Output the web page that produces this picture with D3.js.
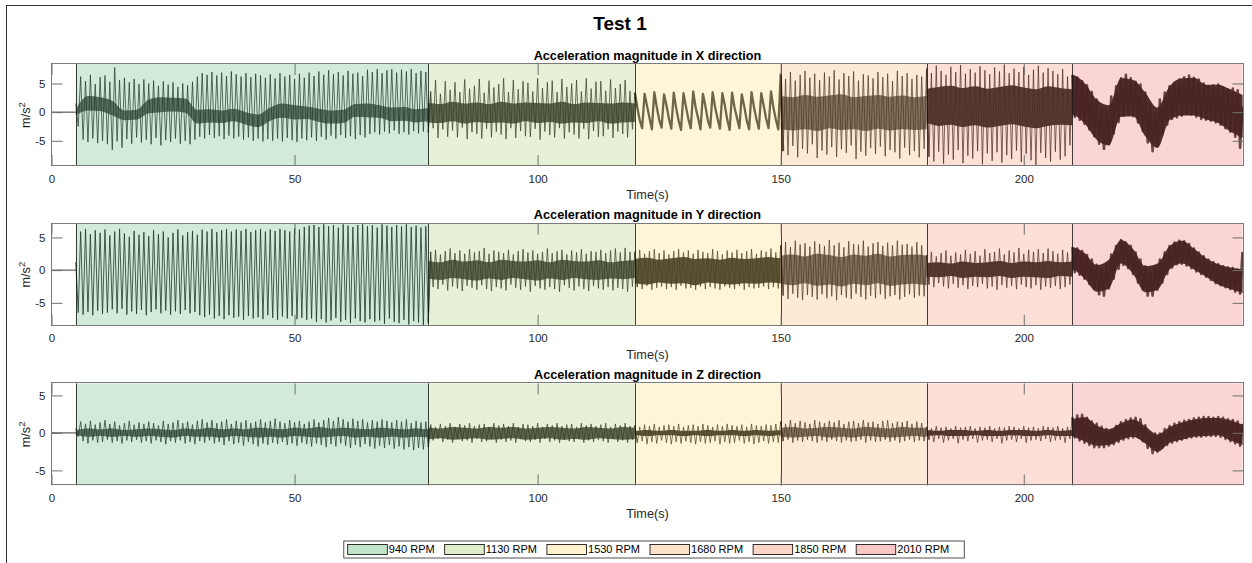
<!DOCTYPE html>
<html><head><meta charset="utf-8">
<script src="https://cdn.jsdelivr.net/npm/d3@7"></script>
<style>body{margin:0;background:#fff}svg{display:block}text{font-family:"Liberation Sans",Arial,sans-serif}</style>
</head><body><svg id="c" width="1252" height="563"></svg>
<script>
// ---------------- DATA ----------------
const figureTitle = "Test 1";
const panelTitles = ["Acceleration magnitude in X direction","Acceleration magnitude in Y direction","Acceleration magnitude in Z direction"];
const rpmLabels = ["940 RPM","1130 RPM","1530 RPM","1680 RPM","1850 RPM","2010 RPM"];
const segStart = [5, 77.5, 120, 150, 180, 210];
const segEnd = [77.5, 120, 150, 180, 210, 245];
const segColors = ["#66bc7d","#acd076","#fcde80","#f8b676","#f59476","#f27373"];
const timeMax = 245.2;
const idleSpan = [0, 5];
const xTickValues = [0, 50, 100, 150, 200];
const yTickValues = [-5, 0, 5];
const yDomainX = [-9.4, 8.4], yDomainY = [-8.5, 7.1], yDomainZ = [-7.0, 6.6];
const xLabel = "Time(s)";
const yLabel = "m/s";

// signal samples every 0.5 s from t = 5 s to t = 245 s (peak / trough readings)
const accX = [
// 940 RPM
1.5,-2.5, 6.2,-4.8, 5.4,-5.2, 6.5,-4.6, 4.9,-5.4, 6.1,-5.0, 6.4,-5.6, 5.3,-6.6, 7.8,-5.1, 5.6,-6.2,
6.0,-4.7, 5.2,-5.5, 5.8,-4.4, 4.9,-5.3, 5.7,-4.8, 5.0,-5.6, 5.5,-4.5, 4.6,-5.8, 5.4,-4.9, 4.8,-5.2,
5.2,-4.6, 4.4,-5.5, 5.0,-5.0, 4.7,-5.6, 5.3,-4.8, 6.2,-4.3, 6.8,-4.6, 6.5,-4.0, 7.0,-4.5, 6.4,-4.2,
6.9,-4.7, 6.3,-4.1, 7.1,-4.6, 6.6,-4.3, 6.2,-4.8, 6.8,-4.4, 6.1,-5.0, 6.7,-4.6, 6.4,-5.1, 6.0,-4.7,
6.6,-5.0, 5.9,-4.6, 6.8,-5.1, 6.2,-4.5, 6.5,-4.9, 5.8,-5.2, 6.7,-4.6, 6.0,-4.9, 6.9,-4.4, 6.3,-5.0,
7.1,-4.3, 6.5,-4.8, 7.3,-4.1, 6.6,-4.6, 7.0,-4.0, 6.4,-4.5, 7.2,-4.2, 6.7,-4.7, 6.9,-4.0, 6.3,-4.4,
7.4,-3.8, 7.0,-3.5, 7.5,-3.9, 6.8,-3.4, 7.3,-3.7, 7.5,-3.2, 6.9,-3.8, 7.4,-3.5, 7.1,-3.9, 7.5,-3.3,
6.8,-3.7, 7.2,-3.4, 7.0,-3.6,
// 1130 RPM
3.6,-2.8, 5.6,-4.5, 3.2,-3.0, 5.4,-4.3, 3.9,-3.2, 5.2,-4.4, 3.5,-2.7, 5.7,-4.7, 4.1,-3.5, 4.6,-3.8,
5.8,-4.6, 3.4,-2.9, 5.5,-4.4, 4.3,-3.4, 4.9,-3.9, 5.9,-4.7, 3.5,-2.8, 5.6,-4.5, 4.0,-3.3, 5.4,-4.2,
5.1,-4.3, 3.6,-2.9, 5.9,-4.8, 4.2,-3.4, 5.2,-4.0, 5.5,-4.4, 3.5,-2.8, 5.8,-4.6, 4.4,-3.5, 5.0,-3.9,
5.6,-4.6, 3.6,-2.9, 5.9,-4.7, 4.1,-3.3, 5.3,-4.3, 5.4,-4.2, 3.7,-3.0, 5.7,-4.5, 4.2,-3.4, 4.9,-3.8,
5.6,-4.4, 3.7,-3.0,
// 1530 RPM
3.4,0.8,-1.4,-2.8, 3.2,1.1,-1.0,-3.0, 3.5,0.9,-1.3,-2.7, 3.1,1.2,-1.1,-2.9, 3.4,0.7,-1.5,-3.1,
3.3,1.0,-1.2,-2.8, 3.6,0.8,-1.0,-3.0, 3.2,1.1,-1.4,-2.7, 3.5,0.9,-1.1,-2.9, 3.3,1.2,-1.3,-3.1,
3.4,0.8,-1.0,-2.8, 3.1,1.0,-1.4,-3.0, 3.5,0.9,-1.2,-2.9, 3.3,1.1,-1.1,-2.8, 3.6,0.8,-1.3,-3.0,
// 1680 RPM
6.6,-6.8, 5.8,-7.5, 7.0,-5.9, 5.5,-7.9, 6.5,-6.4, 7.2,-7.2, 6.0,-5.6, 6.7,-8.0, 5.6,-6.7, 6.9,-7.4,
6.2,-6.1, 7.3,-7.8, 5.7,-6.5, 6.8,-7.1, 6.3,-5.8, 7.1,-8.2, 5.5,-6.9, 6.6,-7.6, 6.4,-6.3, 5.9,-7.3,
7.0,-6.0, 6.1,-7.7, 6.7,-6.6, 5.4,-7.0, 7.2,-8.1, 6.3,-6.2, 6.8,-7.5, 5.8,-6.8, 6.5,-7.9, 6.2,-6.4,
// 1850 RPM
7.6,-7.8, 6.8,-8.6, 8.1,-6.9, 7.2,-9.0, 6.5,-7.4, 7.9,-8.3, 7.0,-6.6, 8.2,-8.9, 6.7,-7.6, 7.5,-8.1,
6.9,-6.8, 8.0,-9.1, 7.3,-7.2, 6.6,-8.5, 7.8,-7.0, 7.1,-8.8, 8.3,-7.5, 6.8,-8.2, 7.6,-6.7, 7.0,-8.7,
7.9,-7.3, 6.5,-8.4, 7.4,-9.2, 8.1,-7.1, 6.9,-8.0, 7.7,-8.6, 7.2,-6.9, 6.6,-8.3, 7.5,-7.7, 6.2,-5.8,
// 2010 RPM
6.5,-0.8, 6.0,-1.3, 5.4,-2.0, 4.7,-3.0, 3.5,-4.2, 2.2,-5.5, 0.6,-6.4, 0.3,-5.6, 2.7,-3.7, 4.5,-1.7,
5.9,-0.6, 6.5,-0.3, 5.9,-0.7, 5.3,-1.8, 4.8,-3.3, 3.4,-5.3, 1.2,-6.8, -0.1,-6.0, 2.2,-3.9, 3.4,-2.2,
4.5,-1.2, 5.1,-0.9, 5.7,-0.6, 6.1,-0.3, 6.4,-0.4, 6.0,-0.8, 5.7,-1.2, 5.0,-1.3, 4.5,-1.5, 4.7,-1.8,
4.8,-2.2, 4.3,-2.8, 3.9,-3.4, 4.1,-4.3, 3.8,-6.2, 1.0
];

const accY = [
// 940 RPM
1.2,-6.5, 5.9,-6.8, 6.3,-6.4, 5.5,-6.9, 6.1,-6.2, 5.7,-6.7, 6.2,-6.5, 5.3,-6.0, 5.9,-6.6, 6.3,-5.9,
5.6,-6.8, 5.1,-6.3, 6.0,-6.7, 5.4,-6.1, 5.8,-6.9, 5.2,-6.4, 6.1,-6.0, 5.5,-6.6, 5.9,-6.2, 5.0,-6.8,
5.7,-6.3, 6.2,-6.7, 5.3,-6.1, 5.8,-6.6, 6.0,-6.4, 5.4,-6.9, 6.2,-7.2, 5.9,-6.8, 6.3,-7.4, 5.8,-7.0,
6.1,-7.5, 6.3,-6.9, 5.9,-7.3, 6.2,-7.1, 6.0,-7.6, 6.3,-7.0, 5.8,-7.4, 6.1,-7.2, 6.3,-7.5, 5.9,-6.9,
6.2,-7.3, 6.0,-7.6, 6.3,-7.1, 6.1,-7.4, 5.9,-7.0, 6.4,-7.5, 6.2,-7.3, 6.6,-7.6, 6.8,-7.4, 6.9,-7.9,
6.6,-7.5, 7.0,-8.0, 6.7,-7.7, 6.9,-7.3, 6.5,-7.9, 7.0,-7.6, 6.8,-8.1, 6.6,-7.4, 6.9,-7.8, 7.0,-8.0,
6.7,-7.5, 6.9,-7.9, 6.5,-7.7, 7.0,-8.2, 6.8,-7.4, 6.6,-7.9, 6.9,-8.1, 6.7,-7.6, 7.0,-8.3, 6.6,-7.8,
6.8,-8.0, 6.5,-8.4, 6.7,-8.0,
// 1130 RPM
2.8,-2.6, 3.1,-2.9, 2.4,-2.2, 2.9,-3.1, 3.3,-2.5, 2.6,-2.8, 3.0,-3.2, 2.5,-2.4, 3.2,-2.7, 2.7,-3.0,
2.9,-2.3, 3.4,-2.9, 2.5,-3.2, 3.0,-2.6, 2.8,-2.8, 2.6,-3.1, 3.1,-2.2, 2.4,-2.7, 2.9,-3.0, 3.2,-2.5,
2.7,-3.3, 3.0,-2.4, 2.5,-2.8, 2.8,-3.0, 3.3,-2.6, 2.6,-2.9, 2.9,-3.3, 3.1,-2.3, 2.4,-2.7, 3.0,-3.1,
2.7,-2.5, 3.2,-2.9, 2.5,-3.2, 2.9,-2.4, 2.8,-2.8, 3.1,-3.0, 2.6,-2.6, 3.0,-3.1, 3.3,-2.7, 2.7,-2.9,
3.4,-3.3, 2.8,-2.5,
// 1530 RPM
2.8,-2.6, 3.1,-2.9, 2.5,-2.4, 2.9,-3.0, 3.2,-2.7, 2.6,-2.5, 3.0,-2.9, 2.4,-2.6, 2.9,-3.0, 3.2,-2.4,
2.7,-2.8, 3.0,-2.7, 2.5,-3.0, 3.1,-2.5, 2.8,-2.9, 2.6,-2.6, 3.2,-2.8, 2.9,-3.0, 2.4,-2.5, 3.0,-2.7,
2.7,-2.9, 3.1,-2.4, 2.6,-3.0, 2.9,-2.6, 3.2,-2.8, 2.5,-2.7, 3.0,-2.5, 2.8,-2.9, 3.3,-2.6, 2.7,-2.8,
// 1680 RPM
3.8,-3.9, 4.3,-4.4, 3.5,-3.6, 4.5,-4.2, 3.9,-4.6, 4.1,-3.8, 3.6,-4.1, 4.4,-4.5, 4.0,-3.7, 3.7,-4.3,
4.6,-4.0, 3.8,-4.6, 4.2,-3.8, 3.5,-4.2, 4.4,-4.4, 4.0,-3.6, 3.9,-4.1, 4.5,-4.5, 3.6,-3.9, 4.1,-4.3,
4.3,-3.7, 3.7,-4.4, 4.2,-4.0, 3.8,-3.8, 4.5,-4.5, 3.9,-4.1, 4.0,-3.7, 3.6,-4.2, 4.3,-3.9, 3.8,-4.0,
// 1850 RPM
2.3,-2.2, 2.8,-2.6, 2.1,-2.0, 2.6,-2.5, 3.0,-2.8, 2.2,-2.1, 2.7,-2.7, 2.4,-2.3, 3.1,-2.9, 2.5,-2.4,
2.9,-2.6, 2.2,-2.1, 3.2,-2.8, 2.6,-2.5, 2.8,-3.0, 3.3,-2.3, 2.4,-2.7, 3.0,-2.4, 2.7,-2.9, 3.4,-2.2,
2.5,-2.6, 3.1,-2.8, 2.8,-2.3, 3.2,-3.0, 2.6,-2.5, 3.3,-2.7, 2.9,-2.4, 2.5,-2.9, 3.1,-2.6, 2.7,-2.2,
// 2010 RPM
3.5,-0.3, 3.3,-0.7, 2.9,-1.3, 2.3,-2.1, 1.6,-2.9, 0.8,-3.7, 0.1,-3.9, 0.8,-2.8, 2.4,-1.3, 3.7,0.2,
4.6,0.8, 4.2,0.3, 3.7,-0.6, 2.7,-1.9, 1.6,-3.0, 0.6,-3.9, -0.4,-3.9, 0.5,-3.0, 1.6,-1.9, 2.7,-0.6,
3.7,0.4, 4.2,0.9, 4.5,1.0, 4.4,0.7, 4.0,0.3, 3.3,-0.2, 2.7,-0.6, 2.1,-1.0, 1.6,-1.5, 1.2,-2.0,
0.9,-2.3, 0.6,-2.6, 0.4,-2.9, 0.3,-3.3, 0.1,-3.6, 2.8
];

const accZ = [
// 940 RPM
0.6,-0.5, 1.5,-1.1, 1.2,-1.4, 1.6,-1.0, 1.1,-1.3, 1.4,-1.2, 1.7,-0.9, 1.2,-1.3, 1.5,-1.1, 1.0,-1.4,
1.3,-1.0, 1.6,-1.2, 1.1,-0.9, 1.4,-1.3, 1.2,-1.1, 1.5,-1.4, 1.3,-1.0, 1.0,-1.2, 1.6,-1.5, 1.2,-1.1,
1.4,-1.3, 1.7,-1.0, 1.3,-1.4, 1.5,-1.2, 1.1,-1.5, 1.6,-1.1, 1.8,-1.3, 1.4,-1.0, 1.7,-1.4, 1.3,-1.2,
1.5,-1.6, 1.8,-1.1, 1.2,-1.5, 1.6,-1.3, 1.4,-1.7, 1.7,-1.2, 1.3,-1.5, 1.5,-1.8, 1.8,-1.4, 1.4,-1.6,
1.6,-1.3, 1.9,-1.5, 1.5,-1.2, 1.3,-1.6, 1.7,-1.4, 1.4,-1.7, 1.6,-1.3, 1.2,-1.5, 1.5,-1.8, 1.8,-1.4,
1.4,-1.6, 1.7,-1.9, 2.0,-1.5, 1.6,-1.8, 2.1,-1.4, 1.8,-1.7, 1.5,-2.0, 1.9,-1.6, 1.6,-1.9, 1.8,-1.5,
1.4,-1.8, 1.7,-2.1, 1.5,-1.7, 1.8,-2.0, 1.6,-1.6, 1.4,-2.1, 1.7,-1.8, 1.5,-2.2, 1.8,-1.9, 1.3,-2.3,
1.6,-2.0, 1.4,-2.2, 1.5,-1.9,
// 1130 RPM
1.1,-1.0, 0.8,-0.8, 1.2,-1.2, 0.9,-0.9, 1.3,-1.3, 0.8,-0.8, 1.2,-1.1, 1.0,-1.0, 1.3,-1.3, 0.9,-0.8,
1.1,-1.2, 1.2,-1.1, 0.8,-0.8, 1.3,-1.3, 1.0,-0.9, 1.2,-1.2, 0.9,-1.0, 1.3,-1.3, 0.8,-0.8, 1.2,-1.1,
1.1,-1.2, 0.9,-0.9, 1.3,-1.3, 0.8,-0.8, 1.2,-1.2, 1.0,-1.0, 1.3,-1.3, 0.9,-0.9, 1.1,-1.1, 1.2,-1.2,
0.8,-0.8, 1.3,-1.3, 1.0,-1.0, 1.2,-1.2, 0.9,-0.9, 1.1,-1.1, 1.3,-1.3, 0.8,-0.8, 1.2,-1.2, 1.0,-1.0,
1.3,-1.3, 0.9,-0.9,
// 1530 RPM
1.0,-1.3, 0.8,-1.1, 1.1,-1.5, 0.9,-1.2, 1.2,-1.4, 0.8,-1.0, 1.0,-1.3, 1.1,-1.5, 0.9,-1.2, 1.2,-1.4,
0.8,-1.1, 1.0,-1.3, 1.1,-1.5, 0.9,-1.2, 1.2,-1.4, 1.0,-1.3, 0.8,-1.1, 1.1,-1.5, 0.9,-1.2, 1.2,-1.4,
1.0,-1.3, 0.9,-1.0, 1.1,-1.4, 0.8,-1.2, 1.2,-1.5, 1.0,-1.3, 0.9,-1.1, 1.1,-1.4, 1.0,-1.2, 1.2,-1.3,
// 1680 RPM
1.5,-1.1, 1.2,-0.9, 1.7,-1.3, 1.3,-1.0, 1.6,-1.2, 1.4,-0.9, 1.2,-1.1, 1.7,-1.3, 1.5,-1.0, 1.3,-1.2,
1.6,-0.9, 1.4,-1.1, 1.7,-1.3, 1.2,-1.0, 1.5,-1.2, 1.6,-1.1, 1.3,-0.9, 1.7,-1.3, 1.4,-1.0, 1.5,-1.2,
1.2,-1.1, 1.6,-0.9, 1.7,-1.2, 1.3,-1.0, 1.5,-1.3, 1.4,-1.1, 1.6,-0.9, 1.2,-1.2, 1.5,-1.0, 1.3,-1.1,
// 1850 RPM
0.8,-0.9, 0.6,-1.2, 0.9,-0.8, 0.7,-1.3, 0.8,-1.0, 0.6,-0.8, 0.9,-1.4, 0.7,-0.9, 0.8,-1.1, 0.9,-0.8,
0.6,-1.3, 0.8,-1.0, 0.7,-0.9, 0.9,-1.2, 0.6,-0.8, 0.8,-1.4, 0.7,-1.0, 0.9,-0.9, 0.8,-1.2, 0.6,-0.8,
0.9,-1.3, 0.7,-1.0, 0.8,-0.9, 0.6,-1.1, 0.9,-0.8, 0.8,-1.2, 0.7,-1.0, 0.9,-0.9, 0.6,-1.3, 0.8,-0.8,
// 2010 RPM
2.1,-0.6, 2.3,-1.0, 2.4,-1.3, 2.0,-1.6, 1.5,-1.9, 1.2,-1.9, 0.8,-1.9, 0.5,-1.7, 0.4,-1.5, 0.9,-1.2,
1.4,-0.9, 1.7,-0.7, 1.9,-0.6, 2.0,-0.6, 1.8,-1.1, 1.0,-2.0, -0.1,-2.7, -0.1,-2.5, -0.1,-2.0, 0.5,-1.6,
0.9,-1.3, 1.2,-1.1, 1.4,-0.9, 1.6,-0.7, 1.7,-0.6, 1.9,-0.5, 2.0,-0.5, 2.1,-0.4, 2.1,-0.4, 2.0,-0.4,
2.1,-0.5, 2.0,-0.8, 1.8,-1.1, 1.7,-1.4, 1.5,-1.7, 1.2
];

// dense core band (upper / lower edge) every 2.5 s within each RPM stage
const N = null;
const coreXHi = [
0.5,2.8,2.6,2.0,0.3,0.4,2.2,2.6,2.5,2.4,0.4,0.5,0.3,0.6,0.0,-0.4,0.8,1.5,1.2,1.0,0.6,0.3,0.4,1.4,1.5,1.2,0.8,0.9,0.5,0.7,
1.6,1.4,1.8,1.5,1.7,1.4,1.8,1.5,1.7,1.6,1.5,1.8,1.4,1.7,1.6,1.5,1.7,1.5,
N,N,N,N,N,N,N,N,N,N,N,N,N,
2.8,2.6,3.0,2.7,2.9,3.1,2.6,2.8,3.0,2.7,2.9,2.6,2.8,
4.0,4.4,4.6,4.2,4.5,4.1,4.4,4.7,4.3,4.0,4.5,4.2,4.0,
6.5,5.1,2.2,1.2,5.9,5.6,3.4,0.8,4.5,5.9,6.0,4.8,4.8,4.0,3.0];
const coreXLo = [
-0.5,0.3,0.2,-0.6,-1.4,-1.3,-0.2,0.0,0.1,-0.1,-2.0,-1.8,-1.9,-1.6,-2.2,-2.6,-1.5,-1.0,-1.3,-1.2,-1.7,-2.0,-1.9,-0.8,-0.9,-1.0,-1.6,-1.5,-1.8,-1.6,
-1.8,-1.9,-1.6,-2.0,-1.7,-1.9,-1.8,-2.0,-1.6,-1.9,-1.7,-2.0,-1.8,-1.9,-1.6,-2.0,-1.8,-1.7,
N,N,N,N,N,N,N,N,N,N,N,N,N,
-2.9,-3.2,-3.0,-3.3,-2.8,-3.1,-3.0,-3.3,-2.9,-3.2,-3.0,-3.1,-3.0,
-2.0,-2.4,-2.2,-2.6,-2.3,-2.7,-2.4,-2.1,-2.5,-2.8,-2.4,-2.2,-2.3,
-0.5,-2.0,-4.8,-5.8,-0.8,-0.7,-4.2,-6.2,-1.4,-0.6,-0.6,-1.3,-1.9,-3.4,-4.5];
const coreYHi = [
N,N,N,N,N,N,N,N,N,N,N,N,N,N,N,N,N,N,N,N,N,N,N,N,N,N,N,N,N,N,
1.4,1.2,1.6,1.3,1.5,1.2,1.6,1.4,1.3,1.5,1.2,1.6,1.4,1.3,1.5,1.2,1.4,1.5,
1.7,1.9,1.6,1.8,2.0,1.7,1.8,1.6,1.9,1.7,1.8,2.0,1.8,
2.2,2.4,2.1,2.5,2.3,2.0,2.4,2.2,2.5,2.1,2.3,2.4,2.2,
1.1,1.2,1.0,1.3,1.1,1.2,1.4,1.1,1.3,1.2,1.4,1.2,1.3,
3.5,2.6,0.8,1.6,4.6,3.2,0.6,1.0,3.7,4.5,3.3,1.8,0.9,0.4,0.1];
const coreYLo = [
N,N,N,N,N,N,N,N,N,N,N,N,N,N,N,N,N,N,N,N,N,N,N,N,N,N,N,N,N,N,
-1.3,-1.5,-1.2,-1.4,-1.6,-1.3,-1.5,-1.2,-1.4,-1.6,-1.3,-1.5,-1.2,-1.4,-1.5,-1.3,-1.4,-1.2,
-2.0,-2.2,-1.9,-2.1,-2.0,-2.3,-1.9,-2.1,-2.2,-2.0,-2.1,-1.9,-2.0,
-2.1,-2.3,-2.0,-2.4,-2.2,-2.5,-2.1,-2.3,-2.0,-2.4,-2.2,-2.1,-2.3,
-1.0,-1.1,-0.9,-1.2,-1.0,-1.1,-0.9,-1.2,-1.0,-1.1,-1.2,-0.9,-1.0,
0.0,-1.3,-3.3,-2.8,1.0,-0.6,-3.4,-3.0,0.1,1.0,0.1,-1.0,-2.2,-2.9,-3.5];
const coreZHi = [
0.4,0.6,0.5,0.6,0.4,0.5,0.6,0.5,0.4,0.6,0.5,0.7,0.5,0.6,0.5,0.7,0.6,0.5,0.7,0.6,0.8,0.6,0.7,0.6,0.5,0.7,0.6,0.5,0.6,0.5,
0.7,0.6,0.8,0.7,0.6,0.8,0.7,0.8,0.6,0.7,0.8,0.7,0.6,0.8,0.7,0.6,0.8,0.7,
0.3,0.4,0.3,0.4,0.3,0.3,0.4,0.3,0.4,0.3,0.4,0.3,0.4,
0.7,0.8,0.6,0.7,0.8,0.7,0.6,0.8,0.7,0.6,0.8,0.7,0.7,
0.4,0.3,0.4,0.4,0.3,0.4,0.3,0.4,0.4,0.3,0.4,0.3,0.4,
1.8,2.1,1.0,0.5,1.3,1.8,0.9,-0.2,0.8,1.4,1.8,2.0,2.0,1.7,1.1];
const coreZLo = [
-0.3,-0.5,-0.4,-0.5,-0.4,-0.5,-0.4,-0.5,-0.6,-0.4,-0.5,-0.5,-0.6,-0.4,-0.5,-0.6,-0.5,-0.6,-0.4,-0.5,-0.6,-0.5,-0.4,-0.6,-0.5,-0.6,-0.5,-0.6,-0.5,-0.6,
-0.8,-0.7,-0.9,-0.8,-0.7,-0.9,-0.8,-0.7,-0.9,-0.8,-0.7,-0.9,-0.8,-0.9,-0.7,-0.8,-0.9,-0.8,
-0.3,-0.4,-0.3,-0.3,-0.4,-0.3,-0.4,-0.3,-0.3,-0.4,-0.3,-0.4,-0.3,
-0.5,-0.6,-0.5,-0.4,-0.6,-0.5,-0.6,-0.4,-0.5,-0.6,-0.5,-0.4,-0.5,
-0.4,-0.3,-0.4,-0.4,-0.3,-0.4,-0.4,-0.3,-0.4,-0.4,-0.3,-0.4,-0.4,
-0.4,-1.1,-1.7,-1.6,-0.9,-0.5,-1.4,-2.5,-1.3,-0.9,-0.5,-0.4,-0.3,-1.0,-1.6];

// ---------------- DRAWING ----------------
const svg = d3.select("#c");
const FONT = '"Liberation Sans", Arial, sans-serif';
svg.append("rect").attr("width",1252).attr("height",563).attr("fill","#fff");
svg.append("rect").attr("x",6.5).attr("y",5.5).attr("width",1400).attr("height",700)
  .attr("fill","none").attr("stroke","#333").attr("stroke-width",1);

svg.append("text").attr("x",620).attr("y",29.6).attr("text-anchor","middle")
  .attr("font-size",19).attr("font-weight","bold").attr("fill","#000").text(figureTitle);

const sampleTimes = accX.map((_, i) => 5 + i * 0.5);
const coreTimes = segStart.flatMap((s, k) => d3.range(s, segEnd[k] + 1e-6, 2.5));
const problems = [];
[accX, accY, accZ].forEach((a, i) => { if (a.length !== 481) problems.push("acc" + i + ":" + a.length); });
[coreXHi, coreXLo, coreYHi, coreYLo, coreZHi, coreZLo].forEach((a, i) => { if (a.length !== coreTimes.length) problems.push("core" + i + ":" + a.length + "/" + coreTimes.length); });

const left = 51.5, right = 1243.5, ph = 102;
const panelTops = [64, 223.7, 383.4];
const panels = [
  {title: panelTitles[0], sig: accX, hi: coreXHi, lo: coreXLo, domain: yDomainX, widths: [0.9,0.9,2.3,0.9,0.9,2.6]},
  {title: panelTitles[1], sig: accY, hi: coreYHi, lo: coreYLo, domain: yDomainY, widths: [1.0,0.9,0.9,0.9,0.9,2.6]},
  {title: panelTitles[2], sig: accZ, hi: coreZHi, lo: coreZLo, domain: yDomainZ, widths: [0.9,0.9,0.9,0.9,0.9,2.6]}
];
const coreOpacity = [0.68, 0.78, 0.9, 0.68, 0.92, 0.95];
const x = d3.scaleLinear().domain([0, timeMax]).range([left, right]);

panels.forEach((p, pi) => {
  const top = panelTops[pi], bottom = top + ph;
  const y = d3.scaleLinear().domain(p.domain).range([bottom, top]);
  const g = svg.append("g");
  const cid = "clip" + pi;
  svg.append("clipPath").attr("id", cid).append("rect")
    .attr("x", left).attr("y", top).attr("width", right - left).attr("height", ph);
  const plot = g.append("g").attr("clip-path", `url(#${cid})`);

  // idle (before start) baseline
  plot.append("path").attr("d", d3.line()([[x(idleSpan[0]), y(0)], [x(idleSpan[1]), y(0)]]))
    .attr("stroke", "#222").attr("stroke-width", 0.9).attr("fill", "none");

  const samples = p.sig.map((v, i) => ({t: sampleTimes[i], v}));
  const core = p.hi.map((h, i) => ({t: coreTimes[i], hi: h, lo: p.lo[i]}));

  segStart.forEach((s, k) => {
    const e = segEnd[k];
    const segCore = core.filter(d => d.t >= s - 1e-6 && d.t <= e + 1e-6);
    plot.append("path")
      .attr("d", d3.area().defined(d => d.hi !== null).curve(d3.curveMonotoneX)
        .x(d => x(d.t)).y0(d => y(d.lo)).y1(d => y(d.hi))(segCore))
      .attr("fill", "#000").attr("fill-opacity", coreOpacity[k]);
    const segSamples = samples.filter(d => d.t >= s - 1e-6 && d.t <= e + 0.5 + 1e-6);
    plot.append("path")
      .attr("d", d3.line().x(d => x(d.t)).y(d => y(d.v))(segSamples))
      .attr("fill", "none").attr("stroke", "#000").attr("stroke-opacity", 0.8)
      .attr("stroke-width", p.widths[k]).attr("stroke-linejoin", "round");
  });

  // RPM stage patches (semi-transparent, over the signal)
  g.selectAll("rect.stage").data(segStart).join("rect").attr("class", "stage")
    .attr("x", (d) => x(d)).attr("y", top)
    .attr("width", (d, k) => x(segEnd[k]) - x(d)).attr("height", ph)
    .attr("fill", (d, k) => segColors[k]).attr("fill-opacity", 0.3);
  g.selectAll("line.edge").data(segStart).join("line").attr("class", "edge")
    .attr("x1", d => Math.round(x(d)) + 0.5).attr("x2", d => Math.round(x(d)) + 0.5)
    .attr("y1", top).attr("y2", bottom)
    .attr("stroke", "#111").attr("stroke-opacity", 0.8).attr("stroke-width", 1);

  // axes
  const axStyle = sel => {
    sel.select(".domain").remove();
    sel.selectAll(".tick line").attr("stroke", "#6e6e6e").attr("stroke-width", 1);
    sel.selectAll(".tick text").attr("fill", "#262626").attr("font-size", 11.5).attr("font-family", FONT);
  };
  const fmt = d => String(d);
  g.append("g").attr("transform", `translate(0,${bottom})`)
    .call(d3.axisBottom(x).tickValues(xTickValues).tickFormat(fmt).tickSizeInner(-11).tickSizeOuter(0).tickPadding(8.5)).call(axStyle);
  g.append("g").attr("transform", `translate(0,${top})`)
    .call(d3.axisTop(x).tickValues(xTickValues).tickFormat("").tickSizeInner(-11).tickSizeOuter(0)).call(axStyle);
  g.append("g").attr("transform", `translate(${left},0)`)
    .call(d3.axisLeft(y).tickValues(yTickValues).tickFormat(fmt).tickSizeInner(-11).tickSizeOuter(0).tickPadding(6)).call(axStyle);
  g.append("g").attr("transform", `translate(${right},0)`)
    .call(d3.axisRight(y).tickValues(yTickValues).tickFormat("").tickSizeInner(-11).tickSizeOuter(0)).call(axStyle);

  g.append("rect").attr("x", left).attr("y", Math.round(top) + 0.5 - 1).attr("width", right - left).attr("height", ph)
    .attr("fill", "none").attr("stroke", "#7a7a7a").attr("stroke-width", 1).attr("shape-rendering", "crispEdges");

  g.append("text").attr("x", (left + right) / 2).attr("y", top - 4.3).attr("text-anchor", "middle")
    .attr("font-size", 12.7).attr("font-weight", "bold").attr("fill", "#000").text(p.title);
  g.append("text").attr("x", (left + right) / 2).attr("y", bottom + 33).attr("text-anchor", "middle")
    .attr("font-size", 12.7).attr("fill", "#262626").text(xLabel);
  const yl = g.append("text").attr("transform", `translate(${30},${top + ph / 2}) rotate(-90)`)
    .attr("text-anchor", "middle").attr("font-size", 12.7).attr("fill", "#262626");
  yl.append("tspan").text(yLabel);
  yl.append("tspan").attr("dy", -5).attr("font-size", 9.5).text("2");
});

// legend
const lg = svg.append("g");
const lgX = 343.8, lgY = 541, lgH = 17, patchW = 39.6, patchH = 10;
let cx = lgX + 3.9;
rpmLabels.forEach((lab, k) => {
  lg.append("rect").attr("x", cx).attr("y", lgY + (lgH - patchH) / 2).attr("width", patchW).attr("height", patchH)
    .attr("fill", segColors[k]).attr("fill-opacity", 0.4).attr("stroke", "#000").attr("stroke-width", 0.8);
  const t = lg.append("text").attr("x", cx + patchW + 1.5).attr("y", lgY + lgH / 2 + 3.9)
    .attr("font-size", 11).attr("fill", "#000").text(lab);
  cx = cx + patchW + 1.5 + t.node().getComputedTextLength() + 10;
});
lg.insert("rect", ":first-child").attr("x", lgX).attr("y", lgY).attr("width", cx - lgX + 5).attr("height", lgH)
  .attr("fill", "#fff").attr("stroke", "#262626").attr("stroke-width", 0.8);

if (problems.length) svg.append("text").attr("x", 20).attr("y", 550).attr("fill", "red").text(problems.join(" "));
</script></body></html>
